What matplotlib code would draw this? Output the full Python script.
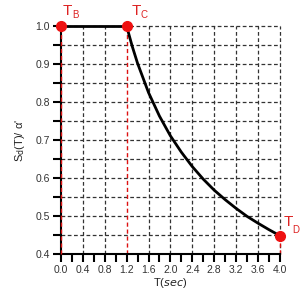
import matplotlib
matplotlib.use("Agg")
import matplotlib.pyplot as plt
import numpy as np

plt.rcParams['font.family'] = ['Liberation Sans', 'DejaVu Sans']

# Curve
T = [1.2, 1.3, 1.4, 1.6, 1.8, 2.0, 2.2, 2.4, 2.6, 2.8, 3.0, 3.2, 3.4, 3.6, 3.8, 4.0]
S = [1.0, 0.948, 0.902, 0.825, 0.763, 0.711, 0.668, 0.630, 0.597, 0.568, 0.543, 0.520, 0.499, 0.481, 0.464, 0.448]
plateau_T = [0.0, 1.2]
plateau_S = [1.0, 1.0]
pt_T = [0.0, 1.2, 4.0]
pt_S = [1.0, 1.0, 0.448]
pt_labels = ["B", "C", "D"]
xticks = [0.0, 0.4, 0.8, 1.2, 1.6, 2.0, 2.4, 2.8, 3.2, 3.6, 4.0]
yticks = [0.4, 0.5, 0.6, 0.7, 0.8, 0.9, 1.0]

fig = plt.figure(figsize=(3.0, 2.96), dpi=100)
ax = fig.add_axes([0.203, 0.142, 0.73, 0.77])
ax.set_xlim(0, 4.0)
ax.set_ylim(0.4, 1.0)

dash = (0, (3, 2))
for x in np.arange(0.4, 4.01, 0.4):
    if abs(x - 1.2) < 1e-6:
        continue
    ax.plot([x, x], [0.4, 1.0], color='#333333', lw=0.9, ls=dash, clip_on=False, zorder=1)
for y in np.arange(0.45, 1.001, 0.05):
    ax.plot([0, 4.0], [y, y], color='#333333', lw=0.9, ls=dash, clip_on=False, zorder=1)

ax.plot([0, 0], [0.4, 1.0], color='#dd1111', lw=1.0, ls=dash, zorder=4, clip_on=False)
ax.plot([1.2, 1.2], [0.4, 1.0], color='#dd1111', lw=1.0, ls=dash, zorder=2, clip_on=False)
ax.plot([4.0, 4.0], [0.4, pt_S[2]], color='#dd1111', lw=1.0, ls=dash, zorder=2, clip_on=False)

ax.plot(plateau_T, plateau_S, color='black', lw=2.0, zorder=3, clip_on=False)
ax.plot(T, S, color='black', lw=2.0, zorder=3, clip_on=False)
ax.plot(pt_T, pt_S, 'o', color='#ee1111', ms=7, zorder=5, clip_on=False)

red = '#dd2222'
kw = dict(color=red, ha='left', va='baseline', clip_on=False)
ax.text(0.04, 1.029, "T", fontsize=11, **kw)
ax.text(0.20, 1.021, pt_labels[0], fontsize=7, **kw)
ax.text(1.30, 1.029, "T", fontsize=11, **kw)
ax.text(1.46, 1.021, pt_labels[1], fontsize=7, **kw)
ax.text(4.07, 0.473, "T", fontsize=11, **kw)
ax.text(4.23, 0.455, pt_labels[2], fontsize=7, **kw)

for s in ['top', 'right']:
    ax.spines[s].set_visible(False)
for s in ['left', 'bottom']:
    ax.spines[s].set_linewidth(1.5)
    ax.spines[s].set_color('black')

ax.set_xticks(xticks)
ax.set_xticklabels([f"{v:.1f}" for v in xticks])
ax.set_xticks(np.arange(0.2, 4.0, 0.4), minor=True)
ax.set_yticks(yticks)
ax.set_yticklabels([f"{v:.1f}" for v in yticks])
ax.set_yticks(np.arange(0.45, 1.0, 0.1), minor=True)
ax.tick_params(which='both', direction='out', length=6, width=1.5, color='black',
               labelsize=7.5, labelcolor='#333333', pad=2)

ax.set_xlabel("T(" + r"$\it{sec}$" + ")", fontsize=8, color='#222222', labelpad=1)
ax.set_ylabel("S$_{\\rm d}$(T)/ α'", fontsize=8, color='#222222', labelpad=6)

fig.savefig("out.png", dpi=100)
